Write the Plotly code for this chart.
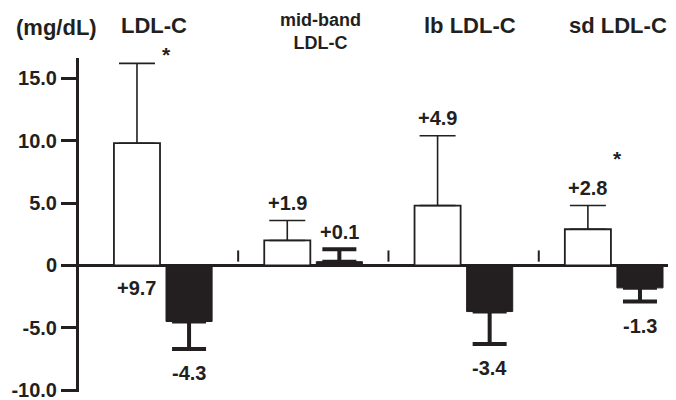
import plotly.graph_objects as go

# ---- data ----
categories = ["LDL-C", "mid-band<br>LDL-C", "lb LDL-C", "sd LDL-C"]
white_values = [9.8, 2.0, 4.8, 2.9]
white_errors = [6.4, 1.6, 5.6, 1.9]
black_values = [-4.5, 0.3, -3.7, -1.8]
black_errors = [2.2, 1.0, 2.6, 1.1]
white_labels = ["+9.7", "+1.9", "+4.9", "+2.8"]
black_labels = ["-4.3", "+0.1", "-3.4", "-1.3"]
significant = [True, False, False, True]
tick_values = [-10, -5, 0, 5, 10, 15]
tick_labels = ["-10.0", "-5.0", "0", "5.0", "10.0", "15.0"]
unit_label = "(mg/dL)"

# ---- style ----
INK = "#231f20"
FONT = "Liberation Sans, Arial, Helvetica, sans-serif"
white_label_below_base = [True, False, False, False]
title_xshift = [-9, 7, 6, 4]
title_sizes = [22, 18, 22, 22]

idx = list(range(len(categories)))
off = 0.1733  # half slot width in category units


def up(vals, errs):
    return [e if v >= 0 else 0 for v, e in zip(vals, errs)]


def down(vals, errs):
    return [e if v < 0 else 0 for v, e in zip(vals, errs)]


fig = go.Figure()
fig.add_trace(go.Bar(
    x=idx, y=white_values,
    marker=dict(color="white", line=dict(color=INK, width=1.8)),
    error_y=dict(type="data", symmetric=False,
                 array=up(white_values, white_errors),
                 arrayminus=down(white_values, white_errors),
                 color=INK, thickness=1.6, width=18),
    showlegend=False, hoverinfo="skip",
))
fig.add_trace(go.Bar(
    x=idx, y=black_values,
    marker=dict(color=INK, line=dict(color=INK, width=1)),
    error_y=dict(type="data", symmetric=False,
                 array=up(black_values, black_errors),
                 arrayminus=down(black_values, black_errors),
                 color=INK, thickness=4, width=17),
    showlegend=False, hoverinfo="skip",
))

annotations = []
lab_font = dict(family=FONT, size=20, color=INK, weight="bold")
for i in idx:
    # white bar labels
    if white_label_below_base[i]:
        y, ys = 0, -23
    else:
        y, ys = white_values[i] + white_errors[i], 18
    annotations.append(dict(x=i - off, y=y, xref="x", yref="y", text=white_labels[i],
                            showarrow=False, yshift=ys, font=lab_font))
    # black bar labels
    bv, be = black_values[i], black_errors[i]
    if bv < 0:
        y, ys = bv - be, -24
    else:
        y, ys = bv + be, 17
    annotations.append(dict(x=i + off, y=y, xref="x", yref="y", text=black_labels[i],
                            showarrow=False, yshift=ys, font=lab_font))
    # significance stars
    if significant[i]:
        top = white_values[i] + white_errors[i]
        annotations.append(dict(x=i - off, y=top, xref="x", yref="y", text="*",
                                showarrow=False, xshift=30,
                                yshift=9 if white_label_below_base[i] else 47,
                                font=dict(family=FONT, size=21, color=INK, weight="bold")))
    # group titles
    annotations.append(dict(x=i, y=1.096 if title_sizes[i] > 20 else 1.078, xref="x", yref="paper",
                            text=categories[i], showarrow=False, xshift=title_xshift[i],
                            yanchor="middle",
                            font=dict(family=FONT, size=title_sizes[i], color=INK, weight="bold")))

annotations.append(dict(x=-0.037, y=1.09, xref="paper", yref="paper", text=unit_label,
                        showarrow=False, yanchor="middle", xanchor="center",
                        font=dict(family=FONT, size=22, color=INK, weight="bold")))

shapes = []
for i in idx[:-1]:
    shapes.append(dict(type="line", xref="x", yref="y", x0=i + 0.5, x1=i + 0.5,
                       y0=0.3, y1=1.2, line=dict(color=INK, width=2)))

# the page body adds an 8px margin, so the figure is 8px smaller on each axis
fig.update_layout(
    width=668, height=392,
    margin=dict(l=71, r=0, t=50, b=8),
    paper_bgcolor="white", plot_bgcolor="white",
    barmode="group", bargap=0.307, bargroupgap=0.115,
    annotations=annotations, shapes=shapes,
    xaxis=dict(range=[-0.559, 3.413], showticklabels=False, showline=False,
               showgrid=False, zeroline=False, ticks="", automargin=False),
    yaxis=dict(range=[-10.15, 16.63], tickvals=tick_values, ticktext=tick_labels,
               showline=True, linewidth=3, linecolor=INK,
               ticks="outside", ticklen=15, tickwidth=2.5, tickcolor=INK,
               tickfont=dict(family=FONT, size=20, color=INK, weight="bold"),
               ticklabeloverflow="allow",
               showgrid=False, zeroline=True, zerolinewidth=2.5, zerolinecolor=INK,
               automargin=False),
)

fig.write_html("out.html")
